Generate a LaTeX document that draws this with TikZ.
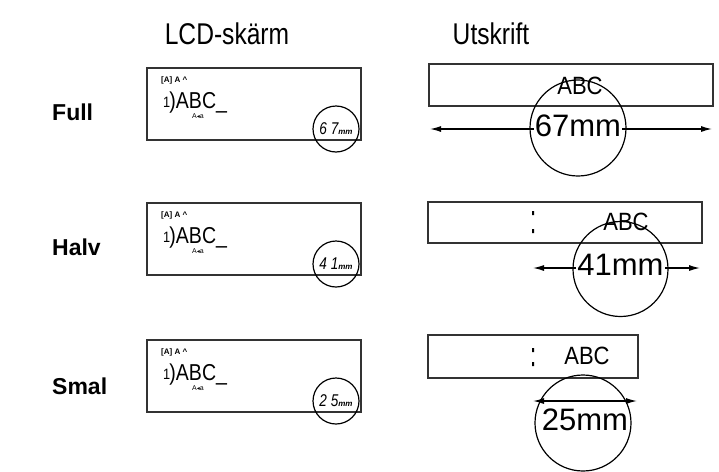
\documentclass[tikz,border=0pt]{standalone}
\usepackage{fontspec}
\setmainfont{Liberation Sans}
\newfontfamily\symfont{DejaVu Sans}
\usetikzlibrary{arrows.meta, positioning}
\tikzset{
  >={Latex[length=11pt, width=6pt]},
  every picture/.style={line join=miter},
  tape/.style={draw=black!80, line width=1.5pt, inner sep=0pt},
  lcdbox/.style={draw=black!80, line width=1.5pt},
  ring/.style={draw, circle, line width=1.2pt, inner sep=0pt},
  dimline/.style={<->, line width=1.3pt},
  heading/.style={font=\fontsize{30}{30}\selectfont},
  rowname/.style={font=\bfseries\fontsize{23}{23}\selectfont, anchor=west, inner sep=0pt},
  tapetext/.style={font=\fontsize{25}{25}\selectfont, inner sep=0pt},
  lentext/.style={font=\fontsize{31}{31}\selectfont, fill=white, inner sep=1pt},
  % LCD screen, the length readout sits in a small ring
  lcd/.pic={
    \draw[lcdbox] (0,0) rectangle (214,72);
    \node[anchor=west, inner sep=0pt, font=\bfseries\fontsize{8}{8}\selectfont] (-mode) at (14,12) {[A] A \textasciicircum};
    \node[anchor=base west, inner sep=0pt, font=\fontsize{23}{23}\selectfont] (-text) at (16,40)
      {\scalebox{0.85}[1]{\raisebox{1pt}{\fontsize{15}{15}\selectfont 1}\kern-1pt)ABC\_}};
    \node[inner sep=0pt, font=\fontsize{7}{7}\selectfont] (-size) at (51,48) {A{\symfont\fontsize{6}{6}\selectfont ◂}a};
    \node[ring, minimum size=46pt] (-ring) at (189,61) {};
    \node[inner sep=0pt, font=\fontsize{17}{17}\selectfont\itshape] (-len) at (-ring)
      {\scalebox{0.8}[1]{#1}{\bfseries\fontsize{8}{8}\selectfont mm}};
  },
}

\begin{document}
\begin{tikzpicture}[x=1pt, y=-1pt]
  \useasboundingbox (0,0) rectangle (719,471);
  \node[heading] (lcdhead) at (227,34) {\scalebox{0.82}[1]{LCD-skärm}};
  \node[heading] (printhead) at (491,34) {\scalebox{0.82}[1]{Utskrift}};

  % Full
  \node[rowname] (full) at (52,112) {Full};
  \pic (lcdfull) at (147,68) {lcd={6 7}};
  \node[tape, minimum width=284pt, minimum height=42pt] (tapefull) at (571,85) {};
  \node[tapetext] (abcfull) at (580,86) {\scalebox{0.88}[1]{ABC}};
  \coordinate (fullL) at (430,129);
  \coordinate (fullR) at (712,129);
  \draw[dimline] (fullL) -- (fullR);
  \node[lentext] (lenfull) at (578,126) {67mm};
  \node[ring, minimum size=96pt] (ringfull) at (578,128) {};

  % Halv
  \node[rowname] (halv) at (52,247) {Halv};
  \pic (lcdhalv) at (147,203) {lcd={4 1}};
  \node[tape, minimum width=274pt, minimum height=41pt] (tapehalv) at (565,222.5) {};
  \fill (532,211) rectangle (534,215) (532,229) rectangle (534,233);
  \node[tapetext] (abchalv) at (626,222) {\scalebox{0.88}[1]{ABC}};
  \coordinate (halvL) at (533,268);
  \coordinate (halvR) at (700,268);
  \draw[dimline] (halvL) -- (halvR);
  \node[lentext] (lenhalv) at (620.5,265) {41mm};
  \node[ring, minimum size=95pt] (ringhalv) at (620.5,269) {};

  % Smal
  \node[rowname] (smal) at (52,386) {Smal};
  \pic (lcdsmal) at (147,340) {lcd={2 5}};
  \node[tape, minimum width=210pt, minimum height=43pt] (tapesmal) at (533,356.5) {};
  \fill (532,348) rectangle (534,352) (532,362) rectangle (534,366);
  \node[tapetext] (abcsmal) at (587,356) {\scalebox{0.88}[1]{ABC}};
  \coordinate (smalL) at (533,401);
  \coordinate (smalR) at (637,401);
  \draw[dimline] (smalL) -- (smalR);
  \node[lentext, fill=none] (lensmal) at (585,420) {25mm};
  \node[ring, minimum size=96pt] (ringsmal) at (583,423) {};
\end{tikzpicture}
\end{document}
